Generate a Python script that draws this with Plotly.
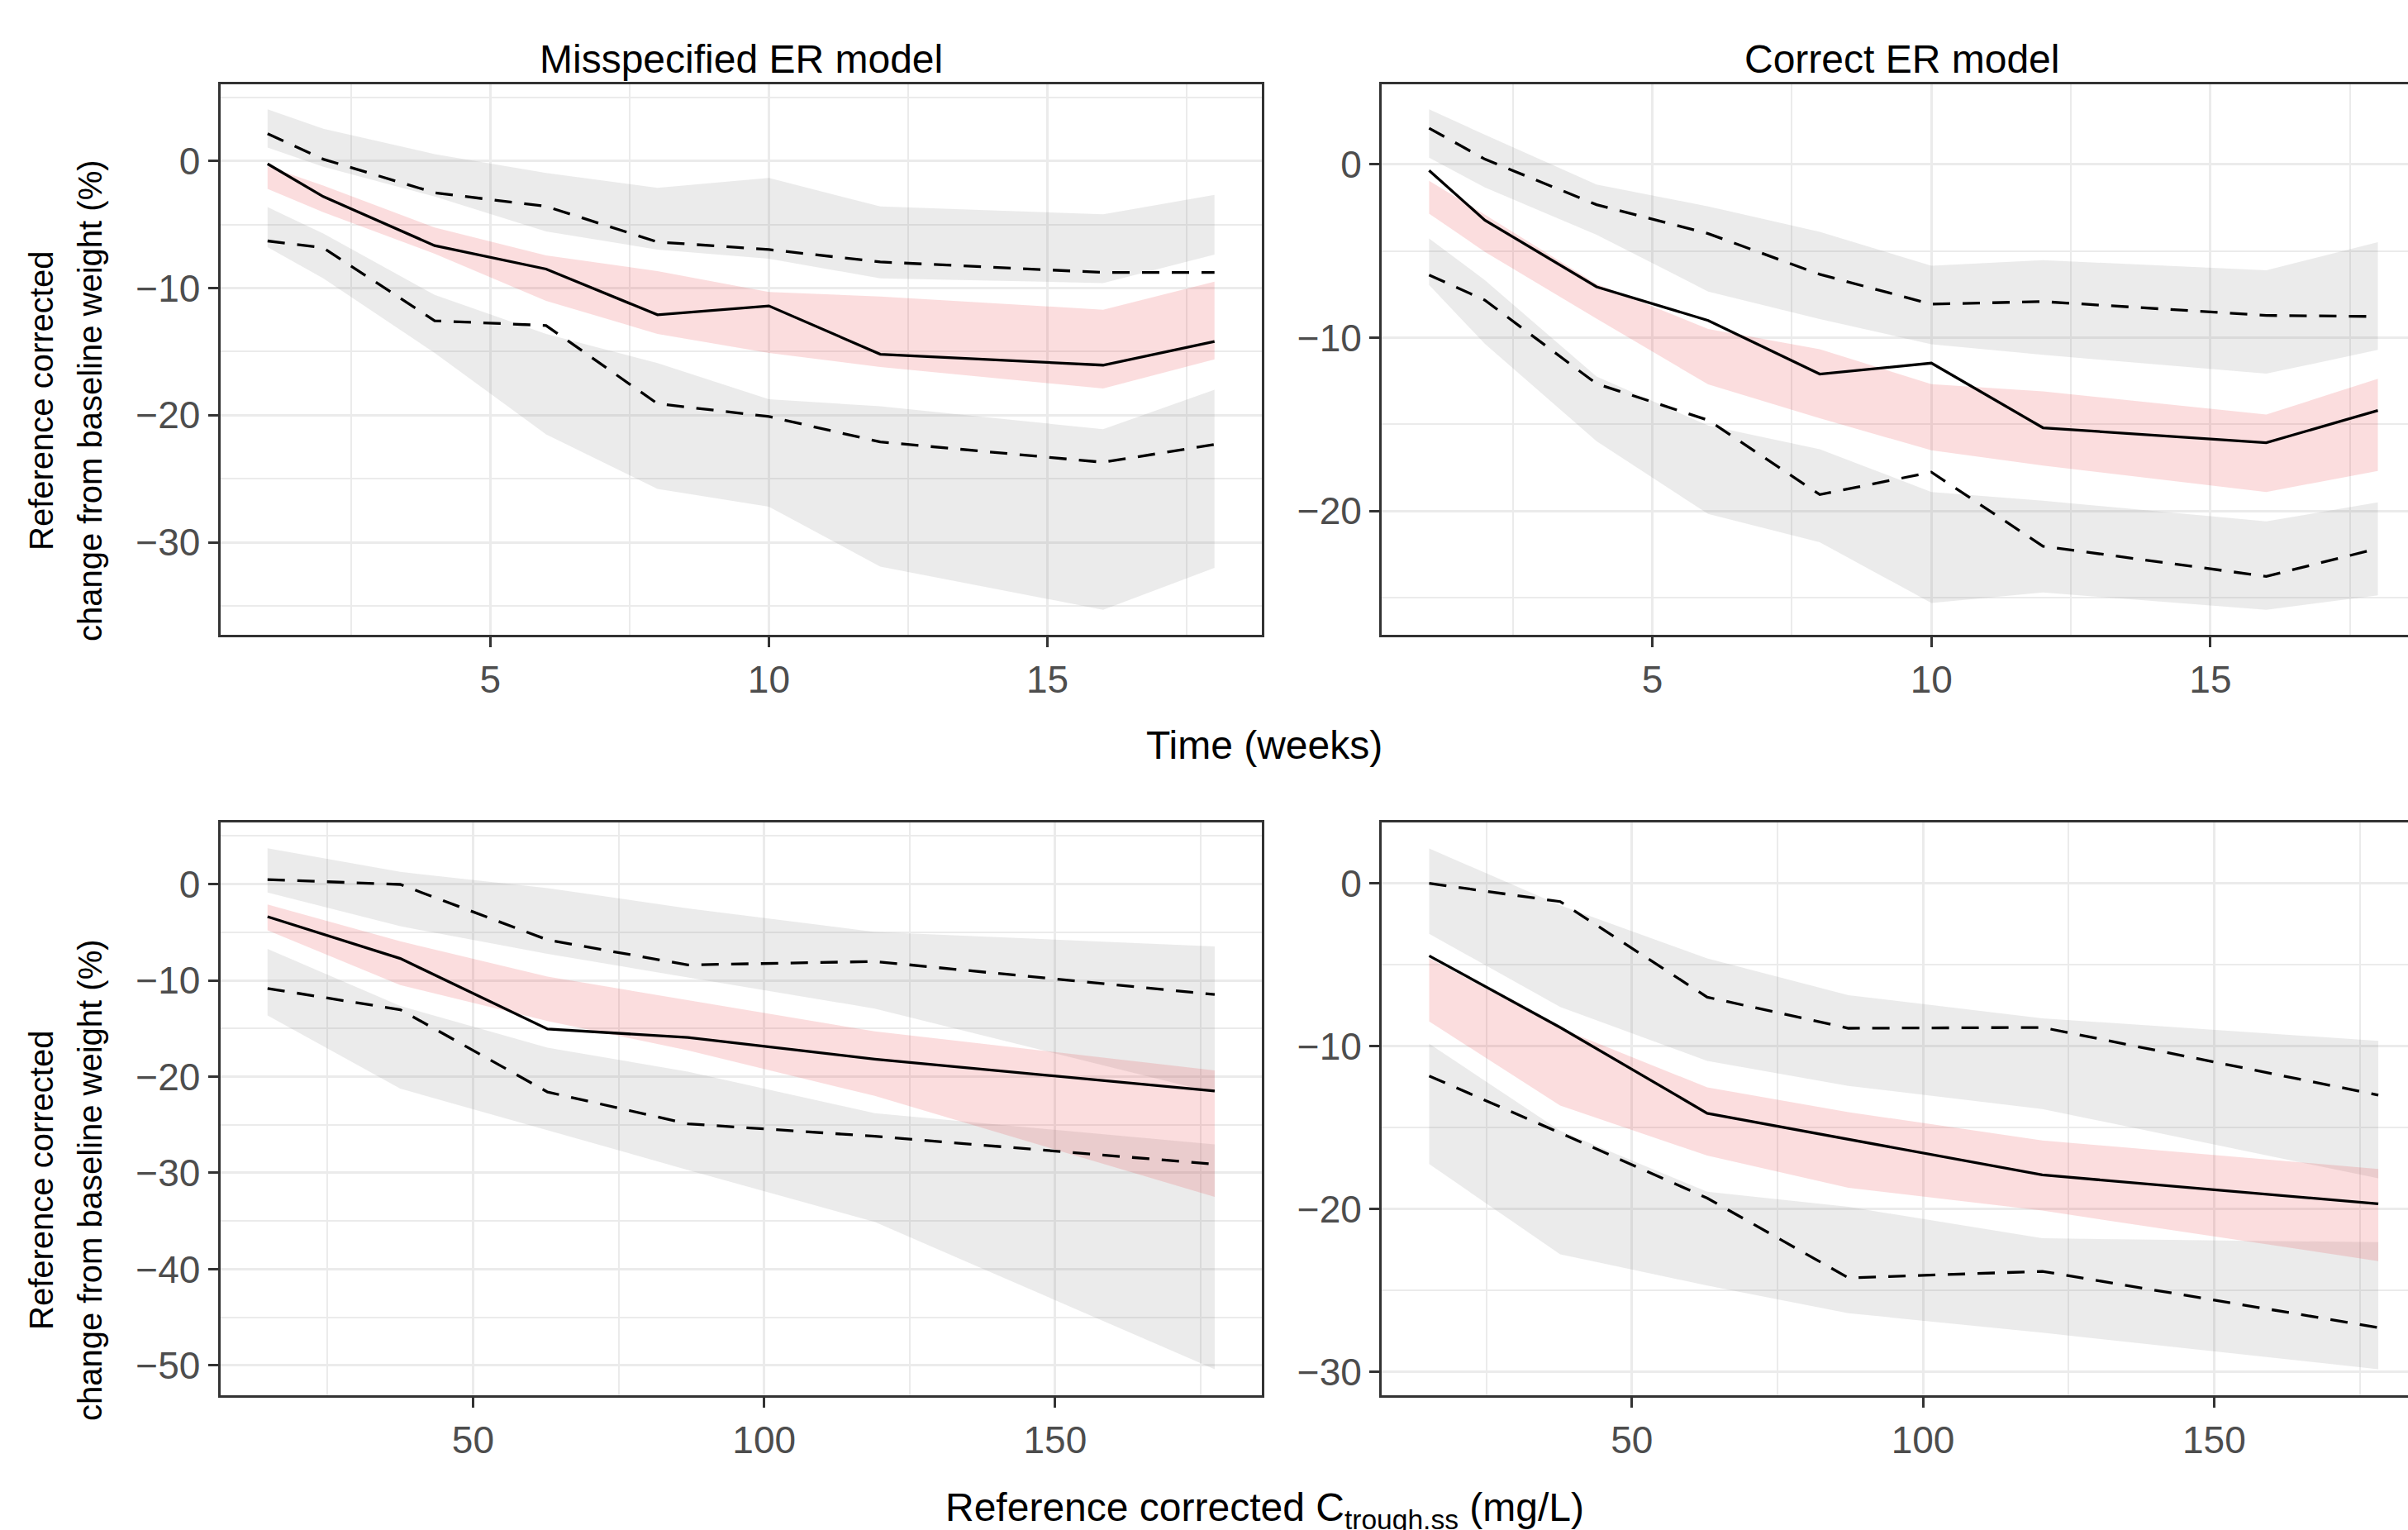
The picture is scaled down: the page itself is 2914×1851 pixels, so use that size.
import plotly.graph_objects as go

# ---------------------------------------------------------------------------
# x values
# ---------------------------------------------------------------------------
TIME_WEEKS = [1, 2, 4, 6, 8, 10, 12, 16, 18]
CONC_MIS = [14.7, 37.5, 62.8, 86.9, 119.0, 177.4]
CONC_COR = [15.2, 37.7, 62.95, 87.2, 120.5, 178.2]

# ---------------------------------------------------------------------------
# Misspecified ER model, by time
# ---------------------------------------------------------------------------
MT_OBS_MED = [-0.23, -2.8, -6.66, -8.5, -12.1, -11.4, -15.2, -16.06, -14.2]
MT_OBS_HI = [2.14, 0.14, -2.5, -3.57, -6.37, -6.97, -7.94, -8.77, -8.77]
MT_OBS_LO = [-6.29, -6.83, -12.57, -12.94, -19.09, -20.1, -22.1, -23.7, -22.3]
MT_MED_CI_HI = [-0.43, -1.94, -5.23, -7.43, -8.66, -10.3, -10.66, -11.7, -9.5]
MT_MED_CI_LO = [-2.2, -4.03, -7.29, -11.0, -13.6, -15.1, -16.2, -17.9, -15.6]
MT_HI_CI_HI = [4.06, 2.54, 0.54, -0.94, -2.11, -1.34, -3.57, -4.2, -2.66]
MT_HI_CI_LO = [1.06, -0.46, -2.8, -5.54, -6.97, -7.69, -9.23, -9.6, -7.37]
MT_LO_CI_HI = [-3.63, -5.71, -10.54, -13.6, -15.9, -18.74, -19.3, -21.1, -18.0]
MT_LO_CI_LO = [-6.77, -9.23, -15.1, -21.5, -25.8, -27.2, -31.9, -35.3, -32.0]

# ---------------------------------------------------------------------------
# Correct ER model, by time
# ---------------------------------------------------------------------------
CT_OBS_MED = [-0.36, -3.23, -7.07, -9.01, -12.1, -11.47, -15.2, -16.06, -14.2]
CT_OBS_HI = [2.08, 0.29, -2.33, -4.0, -6.35, -8.07, -7.92, -8.72, -8.78]
CT_OBS_LO = [-6.39, -7.84, -12.66, -14.76, -19.05, -17.76, -22.03, -23.77, -22.16]
CT_MED_CI_HI = [-0.96, -2.91, -6.9, -9.5, -10.67, -12.68, -13.1, -14.44, -12.37]
CT_MED_CI_LO = [-2.85, -5.05, -8.9, -12.7, -14.65, -16.5, -17.38, -18.9, -17.69]
CT_HI_CI_HI = [3.17, 1.7, -1.17, -2.43, -3.9, -5.85, -5.53, -6.12, -4.49]
CT_HI_CI_LO = [0.38, -1.34, -4.07, -7.34, -8.93, -10.38, -10.99, -12.08, -10.71]
CT_LO_CI_HI = [-4.28, -6.69, -12.24, -15.07, -16.44, -18.9, -19.4, -20.6, -19.5]
CT_LO_CI_LO = [-6.96, -10.36, -15.97, -20.17, -21.8, -25.3, -24.7, -25.7, -24.86]

# ---------------------------------------------------------------------------
# Misspecified ER model, by exposure
# ---------------------------------------------------------------------------
MC_OBS_MED = [-3.39, -7.73, -15.06, -15.93, -18.18, -21.49]
MC_OBS_HI = [0.47, -0.04, -5.8, -8.4, -8.04, -11.47]
MC_OBS_LO = [-10.84, -13.05, -21.6, -24.9, -26.2, -29.1]
MC_MED_CI_HI = [-2.13, -5.95, -9.62, -12.07, -15.3, -19.36]
MC_MED_CI_LO = [-4.81, -10.49, -14.23, -17.27, -22.0, -32.5]
MC_HI_CI_HI = [3.71, 1.26, -0.43, -2.52, -4.97, -6.47]
MC_HI_CI_LO = [-0.87, -4.38, -7.26, -9.7, -12.93, -21.7]
MC_LO_CI_HI = [-6.74, -12.66, -17.0, -19.48, -23.8, -27.05]
MC_LO_CI_LO = [-13.64, -21.25, -25.6, -29.7, -35.1, -50.4]

# ---------------------------------------------------------------------------
# Correct ER model, by exposure
# ---------------------------------------------------------------------------
CC_OBS_MED = [-4.45, -8.85, -14.12, -15.7, -17.91, -19.68]
CC_OBS_HI = [0.0, -1.12, -6.99, -8.9, -8.85, -13.0]
CC_OBS_LO = [-11.83, -15.33, -19.33, -24.23, -23.83, -27.28]
CC_MED_CI_HI = [-4.6, -8.9, -12.53, -14.05, -15.79, -17.54]
CC_MED_CI_LO = [-8.48, -13.65, -16.72, -18.7, -20.1, -23.2]
CC_HI_CI_HI = [2.14, -1.35, -4.61, -6.87, -8.29, -9.67]
CC_HI_CI_LO = [-3.1, -7.59, -10.9, -12.44, -13.86, -18.12]
CC_LO_CI_HI = [-9.85, -15.2, -18.94, -19.87, -21.8, -22.04]
CC_LO_CI_LO = [-17.24, -22.78, -24.7, -26.4, -27.6, -29.84]

# ---------------------------------------------------------------------------
# Labels
# ---------------------------------------------------------------------------
PANEL_TITLES = ["Misspecified ER model", "Correct ER model"]
X_TITLE_TIME = "Time (weeks)"
X_TITLE_CONC = "Reference corrected C<sub>trough.ss</sub> (mg/L)"
Y_TITLE_LINES = ["Reference corrected", "change from baseline weight (%)"]

# ---------------------------------------------------------------------------
# Styling
# ---------------------------------------------------------------------------
W, H = 2914, 1851
FONT = "Liberation Sans, Arial, Helvetica, sans-serif"
GREY_FILL = "rgba(128,128,128,0.16)"
PINK_FILL = "rgba(232,64,72,0.18)"
BORDER = "#333333"
GRID = "#EBEBEB"
DASH = "21px,15px"
LINE_W = 3.3


def px_x(p):
    return p / W


def px_y(p):
    return 1 - p / H


fig = go.Figure()


def band(x, hi, lo, color, ax):
    fig.add_trace(go.Scatter(
        x=list(x) + list(x)[::-1],
        y=list(hi) + list(lo)[::-1],
        fill="toself", fillcolor=color, mode="lines",
        line=dict(width=0), hoverinfo="skip", showlegend=False,
        xaxis=ax[0], yaxis=ax[1],
    ))


def line(x, y, dash, ax):
    fig.add_trace(go.Scatter(
        x=x, y=y, mode="lines",
        line=dict(color="black", width=LINE_W, dash=dash),
        showlegend=False, xaxis=ax[0], yaxis=ax[1],
    ))


panels = [
    (TIME_WEEKS, MT_OBS_MED, MT_OBS_HI, MT_OBS_LO, MT_MED_CI_HI, MT_MED_CI_LO,
     MT_HI_CI_HI, MT_HI_CI_LO, MT_LO_CI_HI, MT_LO_CI_LO, ("x", "y")),
    (TIME_WEEKS, CT_OBS_MED, CT_OBS_HI, CT_OBS_LO, CT_MED_CI_HI, CT_MED_CI_LO,
     CT_HI_CI_HI, CT_HI_CI_LO, CT_LO_CI_HI, CT_LO_CI_LO, ("x2", "y2")),
    (CONC_MIS, MC_OBS_MED, MC_OBS_HI, MC_OBS_LO, MC_MED_CI_HI, MC_MED_CI_LO,
     MC_HI_CI_HI, MC_HI_CI_LO, MC_LO_CI_HI, MC_LO_CI_LO, ("x3", "y3")),
    (CONC_COR, CC_OBS_MED, CC_OBS_HI, CC_OBS_LO, CC_MED_CI_HI, CC_MED_CI_LO,
     CC_HI_CI_HI, CC_HI_CI_LO, CC_LO_CI_HI, CC_LO_CI_LO, ("x4", "y4")),
]

for (xv, med, ohi, olo, mhi, mlo, hhi, hlo, lhi, llo, ax) in panels:
    band(xv, hhi, hlo, GREY_FILL, ax)
    band(xv, lhi, llo, GREY_FILL, ax)
    band(xv, mhi, mlo, PINK_FILL, ax)
    line(xv, ohi, DASH, ax)
    line(xv, olo, DASH, ax)
    line(xv, med, "solid", ax)

# panel geometry (pixels)
LEFT_X = (266.5, 1527)
RIGHT_X = (1672, W)
TOP_Y = (102, 768)
BOT_Y = (995, 1688)


def xdom(a):
    return [px_x(a[0]), px_x(a[1])]


def ydom(a):
    return [px_y(a[1]), px_y(a[0])]


def axis_common(dtick, minor_dtick, rng, mirror):
    return dict(
        range=rng, dtick=dtick, tick0=0,
        showline=True, linecolor=BORDER, linewidth=3, mirror=mirror,
        ticks="outside", ticklen=12, tickwidth=3, tickcolor=BORDER,
        tickfont=dict(family=FONT, size=46, color="#4D4D4D"),
        showgrid=True, gridcolor=GRID, gridwidth=3.2,
        zeroline=False,
        minor=dict(dtick=minor_dtick, tick0=0, showgrid=True,
                   gridcolor=GRID, gridwidth=1.6, ticks=""),
    )


layout_axes = {
    "xaxis": dict(domain=xdom(LEFT_X), anchor="y",
                  **axis_common(5, 2.5, [0.15, 18.85], True)),
    "yaxis": dict(domain=ydom(TOP_Y), anchor="x",
                  **axis_common(10, 5, [-37.27, 6.03], True)),
    "xaxis2": dict(domain=xdom(RIGHT_X), anchor="y2",
                   **axis_common(5, 2.5, [0.15, 18.54], True)),
    "yaxis2": dict(domain=ydom(TOP_Y), anchor="x2",
                   **axis_common(10, 5, [-27.14, 4.61], False)),
    "xaxis3": dict(domain=xdom(LEFT_X), anchor="y3",
                   **axis_common(50, 25, [6.57, 185.5], True)),
    "yaxis3": dict(domain=ydom(BOT_Y), anchor="x3",
                   **axis_common(10, 5, [-53.1, 6.4], True)),
    "xaxis4": dict(domain=xdom(RIGHT_X), anchor="y4",
                   **axis_common(50, 25, [7.04, 183.3], True)),
    "yaxis4": dict(domain=ydom(BOT_Y), anchor="x4",
                   **axis_common(10, 5, [-31.44, 3.74], False)),
}

annotations = [
    dict(text=PANEL_TITLES[0], x=px_x(896.8), y=px_y(71)),
    dict(text=PANEL_TITLES[1], x=px_x(2301.6), y=px_y(71)),
    dict(text=X_TITLE_TIME, x=px_x(1530), y=px_y(901)),
    dict(text=X_TITLE_CONC, x=px_x(1530), y=px_y(1827)),
]
for a in annotations:
    a.update(xref="paper", yref="paper", xanchor="center", yanchor="middle",
             showarrow=False, font=dict(family=FONT, size=48, color="black"))

for cy in (485, 1428):
    for cx, txt in zip((50, 109), Y_TITLE_LINES):
        annotations.append(dict(
            text=txt, x=px_x(cx), y=px_y(cy), xref="paper", yref="paper",
            xanchor="center", yanchor="middle", textangle=-90,
            showarrow=False, font=dict(family=FONT, size=40, color="black"),
        ))

fig.update_layout(
    width=W, height=H,
    margin=dict(l=0, r=0, t=0, b=0),
    paper_bgcolor="white", plot_bgcolor="white",
    showlegend=False,
    annotations=annotations,
    **layout_axes,
)

fig.write_html("out.html")
